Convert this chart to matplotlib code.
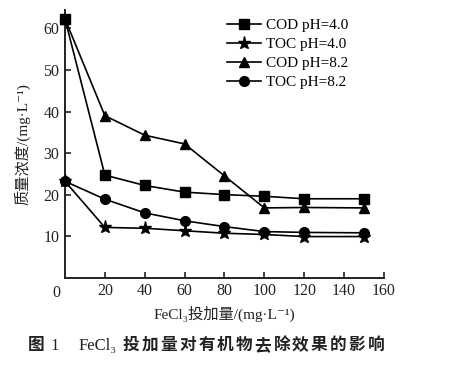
import matplotlib.pyplot as plt

plt.rcParams['font.family'] = ['Liberation Serif', 'DejaVu Serif', 'Noto Sans CJK SC']

dose = [0, 20, 40, 60, 80, 100, 120, 150]
cod_ph4 = [62.3, 24.7, 22.2, 20.6, 20.0, 19.6, 19.0, 19.0]
toc_ph4 = [23.2, 12.1, 11.9, 11.3, 10.7, 10.4, 9.9, 9.9]
cod_ph82 = [62.3, 39.0, 34.3, 32.2, 24.5, 16.8, 16.9, 16.8]
toc_ph82 = [23.2, 18.9, 15.6, 13.7, 12.3, 11.1, 10.9, 10.8]

labels = ['COD pH=4.0', 'TOC pH=4.0', 'COD pH=8.2', 'TOC pH=8.2']
markers = ['s', '*', '^', 'o']
sizes = [7.5, 9.5, 7.5, 7]

fig = plt.figure(figsize=(4.59, 3.65), dpi=100)
ax = fig.add_axes([0.1416, 0.2392, 0.6950, 0.7340])

for y, lab, m, ms in zip([cod_ph4, toc_ph4, cod_ph82, toc_ph82], labels, markers, sizes):
    ax.plot(dose, y, color='black', lw=1.2, marker=m, ms=ms, label=lab, clip_on=False, zorder=3)

ax.set_xlim(0, 160)
ax.set_ylim(0, 64.5)
ax.set_xticks([20, 40, 60, 80, 100, 120, 140, 160])
ax.set_yticks([10, 20, 30, 40, 50, 60])
ax.tick_params(direction='in', length=4, width=1.2, labelsize=11.5, colors='#222222', pad=4)
ax.annotate('0', xy=(0, 0), xytext=(-6, -5), textcoords='offset points',
            ha='center', va='top', fontsize=11.5, color='#222222')
for s in ['top', 'right']:
    ax.spines[s].set_visible(False)
for s in ['left', 'bottom']:
    ax.spines[s].set_linewidth(1.4)
    ax.spines[s].set_color('#222222')

ax.set_xlabel('FeCl₃投加量/(mg·L⁻¹)', fontsize=11, color='#222222', labelpad=5)
ax.set_ylabel('质量浓度/(mg·L⁻¹)', fontsize=11, color='#222222', labelpad=9)

ax.legend(loc='upper left', bbox_to_anchor=(0.49, 0.99), frameon=False, fontsize=11,
          handlelength=2.2, handletextpad=0.35, labelspacing=0.35, borderaxespad=0)

# caption
ybase = 1 - 350 / 365
fig.text(28 / 459, ybase, '图', fontsize=12, fontweight='bold',
         family='Noto Sans CJK SC', va='baseline', color='#222222')
fig.text(50 / 459, ybase, '1', fontsize=12, va='baseline', color='#222222')
fig.text(79 / 459, ybase, 'FeCl₃', fontsize=12, va='baseline', color='#222222')
caption = '投加量对有机物去除效果的影响'
for i, ch in enumerate(caption):
    fig.text((123 + i * 18.8) / 459, ybase, ch, fontsize=12, fontweight='bold',
             family='Noto Sans CJK SC', va='baseline', color='#222222')

fig.savefig('out.png', dpi=100)
